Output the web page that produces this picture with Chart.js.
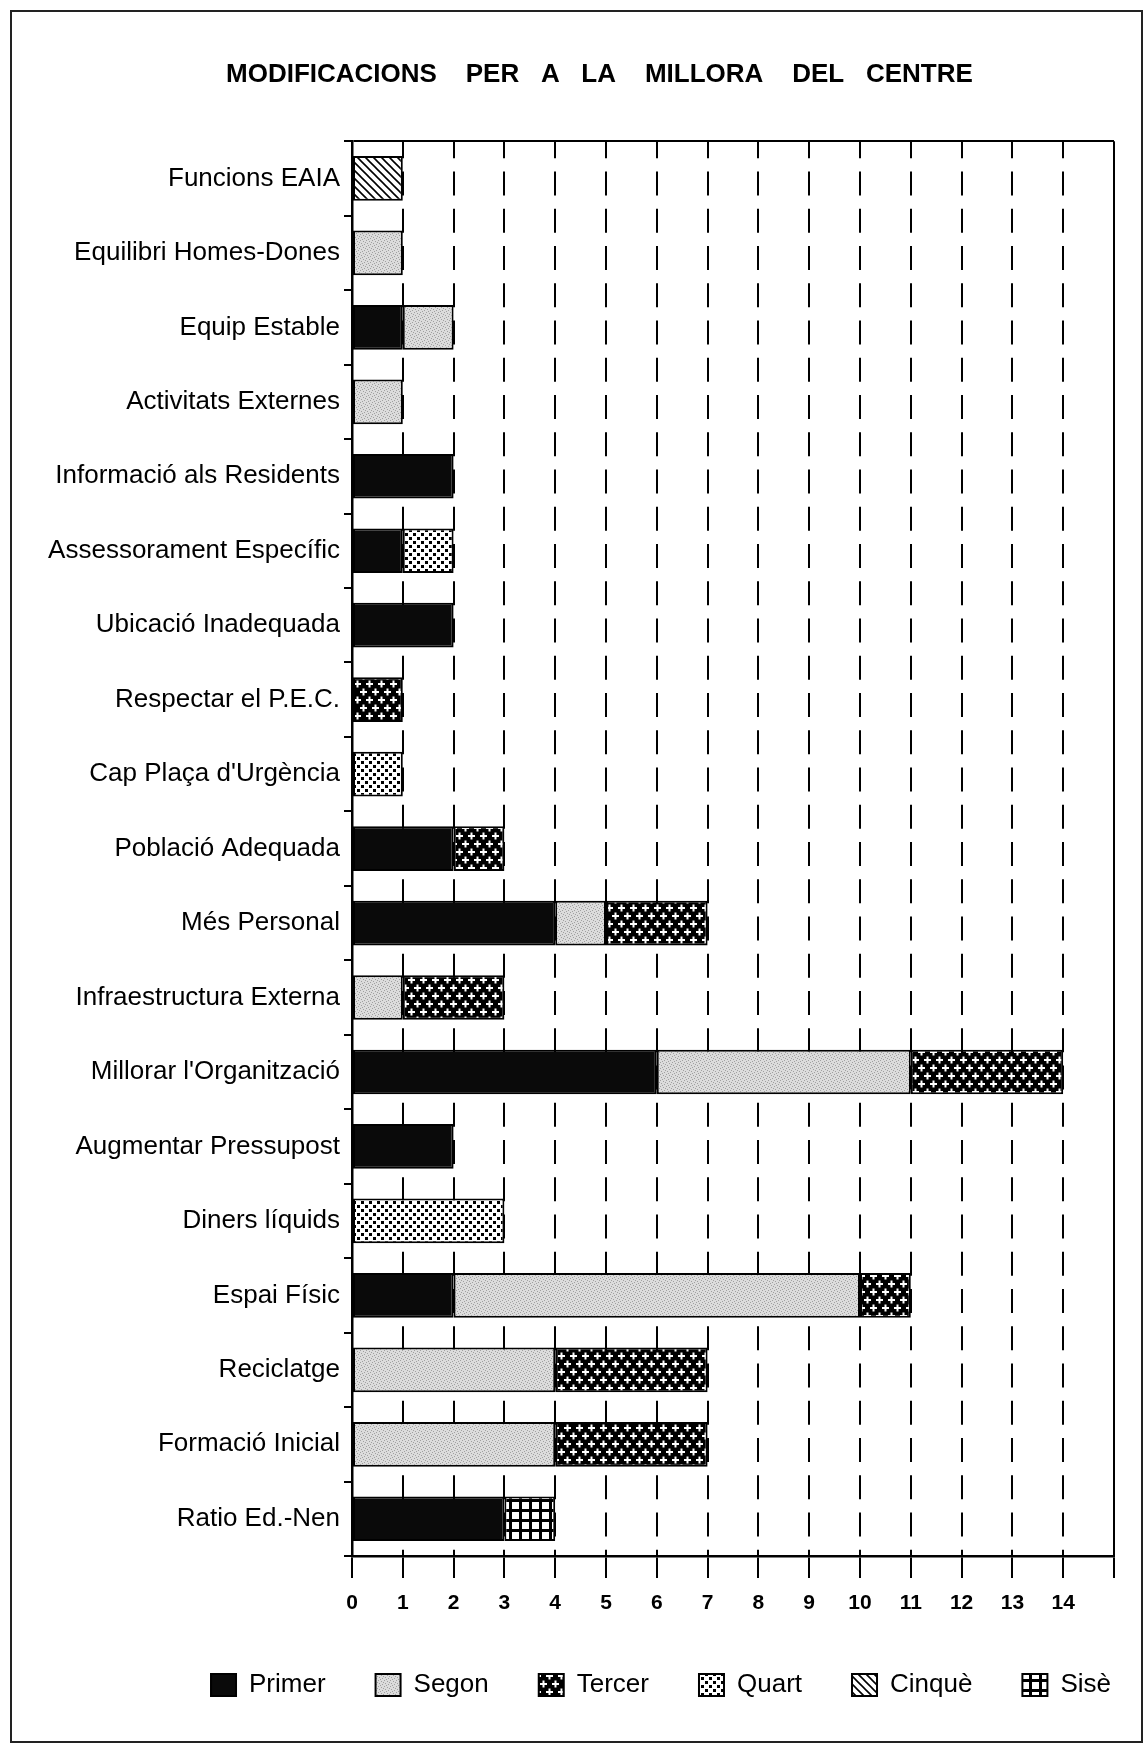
<!DOCTYPE html>
<html>
<head>
<meta charset="utf-8">
<title>Modificacions per a la millora del centre</title>
<script src="https://cdn.jsdelivr.net/npm/chart.js@4.4.1/dist/chart.umd.min.js"></script>
<style>
  html, body { margin: 0; padding: 0; background: #fff; overflow: hidden; }
  #wrap { position: relative; width: 1146px; height: 1746px; }
  #chart { position: absolute; left: 0; top: 0; }
  #frame {
    position: absolute; left: 10px; top: 10px; width: 1133px; height: 1733px;
    border: 2px solid #222; box-sizing: border-box; pointer-events: none;
  }
</style>
</head>
<body>
<div id="wrap">
  <canvas id="chart" width="1146" height="1746"></canvas>
  <div id="frame"></div>
</div>
<script>
// Categories, top to bottom
const categories = [
  'Funcions EAIA',
  'Equilibri Homes-Dones',
  'Equip Estable',
  'Activitats Externes',
  'Informació als Residents',
  'Assessorament Específic',
  'Ubicació Inadequada',
  'Respectar el P.E.C.',
  "Cap Plaça d'Urgència",
  'Població Adequada',
  'Més Personal',
  'Infraestructura Externa',
  "Millorar l'Organització",
  'Augmentar Pressupost',
  'Diners líquids',
  'Espai Físic',
  'Reciclatge',
  'Formació Inicial',
  'Ratio Ed.-Nen'
];

// Series values (one per category)
const primer = [0, 0, 1, 0, 2, 1, 2, 0, 0, 2, 4, 0, 6, 2, 0, 2, 0, 0, 3];
const segon  = [0, 1, 1, 1, 0, 0, 0, 0, 0, 0, 1, 1, 5, 0, 0, 8, 4, 4, 0];
const tercer = [0, 0, 0, 0, 0, 0, 0, 1, 0, 1, 2, 2, 3, 0, 0, 1, 3, 3, 0];
const quart  = [0, 0, 0, 0, 0, 1, 0, 0, 1, 0, 0, 0, 0, 0, 3, 0, 0, 0, 0];
const cinque = [1, 0, 0, 0, 0, 0, 0, 0, 0, 0, 0, 0, 0, 0, 0, 0, 0, 0, 0];
const sise   = [0, 0, 0, 0, 0, 0, 0, 0, 0, 0, 0, 0, 0, 0, 0, 0, 0, 0, 1];

const seriesNames = ['Primer', 'Segon', 'Tercer', 'Quart', 'Cinquè', 'Sisè'];
const xMin = 0;
const xMax = 15;

const FONT = '"Liberation Sans", Arial, Helvetica, sans-serif';

// --- fill patterns, like the old black & white print ---
function makePattern(w, h, paint) {
  const c = document.createElement('canvas');
  c.width = w;
  c.height = h;
  const g = c.getContext('2d');
  paint(g, w, h);
  return g.createPattern(c, 'repeat');
}

const cvs = document.getElementById('chart');
const ctx = cvs.getContext('2d');

const fillPrimer = '#0a0a0a';

const fillSegon = makePattern(6, 6, (g) => {
  g.fillStyle = '#dcdcdc';
  g.fillRect(0, 0, 6, 6);
  g.fillStyle = '#a0a0a0';
  [[0, 0], [3, 1], [1, 3], [4, 4], [5, 2], [2, 5]].forEach(p => g.fillRect(p[0], p[1], 1, 1));
});

const fillTercer = makePattern(12, 16, (g) => {
  g.fillStyle = '#000';
  g.fillRect(0, 0, 12, 16);
  g.fillStyle = '#fff';
  // two staggered plus signs
  g.fillRect(0, 3, 7, 2);
  g.fillRect(2.5, 0.5, 2, 7);
  g.fillRect(6, 11, 7, 2);
  g.fillRect(8.5, 8.5, 2, 7);
  g.fillRect(-6, 11, 7, 2);
});

const fillQuart = makePattern(8, 8, (g) => {
  g.fillStyle = '#fff';
  g.fillRect(0, 0, 8, 8);
  g.fillStyle = '#000';
  g.fillRect(1, 1, 3, 3);
  g.fillRect(5, 5, 3, 3);
});

const fillCinque = makePattern(8, 8, (g) => {
  g.fillStyle = '#fff';
  g.fillRect(0, 0, 8, 8);
  g.strokeStyle = '#000';
  g.lineWidth = 1.6;
  g.beginPath();
  for (let k = -8; k <= 8; k += 8) {
    g.moveTo(k - 1, -1);
    g.lineTo(k + 9, 9);
  }
  g.stroke();
});

const fillSise = makePattern(10, 10, (g) => {
  g.fillStyle = '#000';
  g.fillRect(0, 0, 10, 10);
  g.fillStyle = '#fff';
  g.fillRect(2, 2, 7, 7);
});

const seriesData = [primer, segon, tercer, quart, cinque, sise];
const seriesFill = [fillPrimer, fillSegon, fillTercer, fillQuart, fillCinque, fillSise];

const datasets = seriesNames.map((name, i) => ({
  label: name,
  data: seriesData[i].map(v => (v ? v : null)),
  backgroundColor: seriesFill[i],
  borderColor: '#000',
  borderWidth: 2,
  borderSkipped: false,
  barPercentage: 0.6,
  categoryPercentage: 1
}));

// Title and legend in the scan are not centred on the canvas
const titleStartX = 226;
const legendCenterX = 661;

const blockShift = {
  id: 'blockShift',
  afterLayout(chart) {
    const t = chart.titleBlock;
    if (t) {
      t.left = titleStartX;
    }
    const l = chart.legend;
    if (l) {
      const d = legendCenterX - (l.left + l.right) / 2;
      l.left += d;
      l.right += d;
    }
  }
};

const titleText = 'MODIFICACIONS    PER   A   LA    MILLORA    DEL   CENTRE';

new Chart(ctx, {
  type: 'bar',
  data: { labels: categories, datasets: datasets },
  plugins: [blockShift],
  options: {
    indexAxis: 'y',
    responsive: false,
    animation: false,
    layout: { padding: { left: 0, right: 32, top: 0, bottom: 38 } },
    plugins: {
      title: {
        display: true,
        text: titleText,
        align: 'start',
        color: '#000',
        font: { family: FONT, size: 26, weight: 'bold', lineHeight: 1.2 },
        padding: { top: 59, bottom: 51 }
      },
      legend: {
        display: true,
        position: 'bottom',
        align: 'center',
        labels: {
          color: '#000',
          boxWidth: 25,
          boxHeight: 22,
          padding: 50,
          font: { family: FONT, size: 26 }
        }
      },
      tooltip: { enabled: false }
    },
    scales: {
      x: {
        stacked: true,
        min: xMin,
        max: xMax,
        afterFit(scale) { scale.height = 66; },
        ticks: {
          stepSize: 1,
          color: '#000',
          padding: 13,
          maxRotation: 0,
          font: { family: FONT, size: 21, weight: 'bold' },
          callback: v => (v === xMax ? '' : v)
        },
        grid: {
          color: '#000',
          lineWidth: 2,
          drawTicks: true,
          tickLength: 22,
          tickWidth: 2,
          tickColor: '#000'
        },
        border: {
          display: true,
          color: '#000',
          width: 2.5,
          dash: c => (c.tick && c.tick.value === xMax ? [] : [24, 13.25]),
          dashOffset: 7
        }
      },
      y: {
        stacked: true,
        afterFit(scale) { scale.width = 352; },
        ticks: {
          color: '#000',
          autoSkip: false,
          padding: 4,
          font: { family: FONT, size: 26 }
        },
        grid: {
          offset: true,
          drawOnChartArea: true,
          color: c => (c.index === 0 ? '#000' : 'rgba(0,0,0,0)'),
          lineWidth: 2,
          tickLength: 8,
          tickWidth: 2,
          tickColor: '#000'
        },
        border: { display: true, color: '#000', width: 2.5 }
      }
    }
  }
});
</script>
</body>
</html>
